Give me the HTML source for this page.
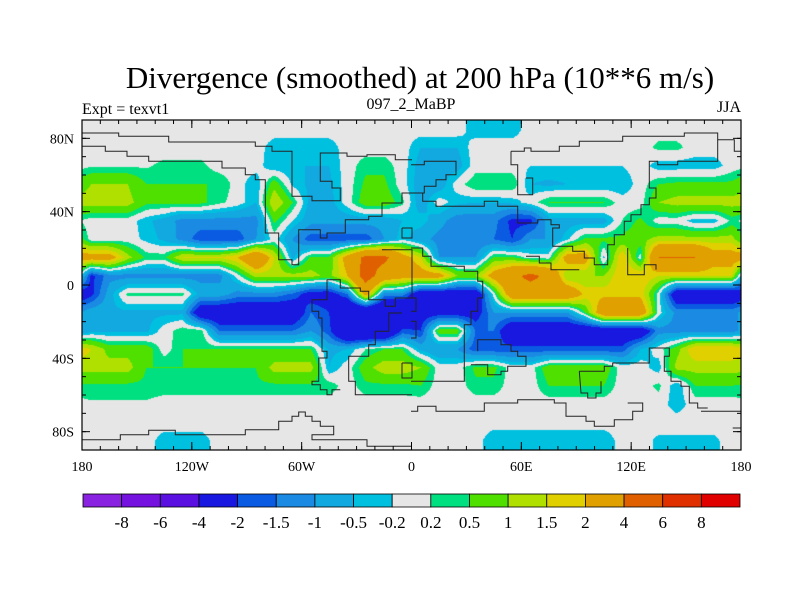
<!DOCTYPE html>
<html><head><meta charset="utf-8"><style>
body{margin:0;background:#fff;}
#wrap{position:relative;width:800px;height:600px;overflow:hidden;font-family:"Liberation Serif",serif;color:#000;}
.t{position:absolute;white-space:nowrap;}
</style></head><body>
<div id="wrap">
<div class="t" style="left:0;width:840px;text-align:center;top:60px;font-size:31px;">Divergence (smoothed) at 200 hPa (10**6 m/s)</div>
<div class="t" style="left:82px;top:101px;font-size:16px;">Expt = texvt1</div>
<div class="t" style="left:361px;width:100px;text-align:center;top:96px;font-size:16px;">097_2_MaBP</div>
<div class="t" style="left:700px;width:41px;text-align:right;top:99px;font-size:16px;">JJA</div>
<canvas id="map" width="659" height="330" style="position:absolute;left:82px;top:120px;"></canvas>
<svg id="ov" width="800" height="600" style="position:absolute;left:0;top:0;"></svg>
</div>
<script>
const levels=[-8,-6,-4,-2,-1.5,-1,-0.5,-0.2,0.2,0.5,1,1.5,2,4,6,8];
const levelLabels=["-8","-6","-4","-2","-1.5","-1","-0.5","-0.2","0.2","0.5","1","1.5","2","4","6","8"];
const colors=["#8a22e2","#7612e0","#5a10e0","#1818e0","#0a5ae2","#1a8ae2","#12a8e0","#00c0e0","#e6e6e6","#00e080","#50e000","#b0e000","#e0d000","#e0a000","#e06000","#e03000","#e00000"];
const latTicks=["80N","40N","0","40S","80S"];
const latTickVals=[80,40,0,-40,-80];
const lonTicks=["180","120W","60W","0","60E","120E","180"];
const lonTickVals=[-180,-120,-60,0,60,120,180];
// field: rows lat 85N..85S (10 deg), cols lon -175..175
const r0=[0,0,0,0,0,0,0,0,0,0,0,0,0,0,0,0,0,0, 0,0,0,-0.4,-0.4,-0.4,0,0,0,0,0,0,0,0,0,0,0,0];
const r1=[0,0,0,0,0,0,0,0,0,0,-0.4,-0.4,-0.4,-0.4,0,0,0,0, -0.5,-0.5,-0.5,0,0,0,0,0,0,0,0,0,0,0.3,0.3,0,0,0];
const r2=[0.15,0.15,0.15,0.15,0.3,0.3,0.3,0,0,0,-0.5,-0.5,-0.5,-0.5,0,0.4,0.4,0, -0.7,-0.7,-0.7,0,0,0,-0.2,-0.2,-0.2,-0.2,-0.2,-0.2,0,-0.4,-0.4,-0.4,-0.4,0];
const r3=[1.0,1.0,1.0,0.5,0.5,0.5,0.5,0.5,0,-0.5,0.8,-0.3,-0.6,-0.6,0,0.6,0.6,0, -0.8,-0.8,0,0.5,0.5,0.5,-0.5,-0.6,-0.5,-0.5,-0.5,-0.5,0,0.5,0.6,0.6,0.6,0.6];
const r4=[1.2,1.2,1.2,0.6,0.6,0.6,0.6,0.3,0,-0.5,1.5,0.5,-0.7,-0.7,0,0.8,0.8,0.3, -0.8,0,-0.4,-0.5,-0.5,-0.4,0,0.5,0.5,0.5,0.5,0,0,1.0,1.2,1.2,1.2,1.2];
const r5=[0,0,0,-0.4,-0.7,-1.2,-1.2,-1.2,-1.2,-1.2,0.6,-0.2,-0.8,-0.8,-0.8,-0.8,-0.8,-0.5, -0.3,-0.8,-1.3,-1.3,-1.3,-2.2,-2.2,-0.7,-0.7,-0.7,-0.7,0.2,0.6,0,0,-0.4,-0.4,0.3];
const r6=[0,0,0,-0.3,-0.6,-1.2,-1.8,-1.8,-1.8,-1,0,-1,-1.8,-1.8,-1.8,-1.8,-1,-0.3, -0.8,-1.2,-1.2,-1.5,-1.5,-2,-1,-1,-0.3,0.6,0.6,0.6,0.8,1.2,1.2,1.2,1.2,1.2];
const r7=[2.5,2.5,1.2,0.4,0.4,1.5,1.5,1.5,2,3.5,1.5,-0.6,0.6,0.6,2.5,4.5,4.5,2.5, 1.5,-1,-1,-1,0.6,0.6,0,0,2.5,2.5,-0.3,2,0,4,4,4,2.5,2.5];
const r8=[-2.2,-1.2,-1.2,-1.2,-1.2,-1.2,-1.2,-1.2,0,1.2,1.2,1.2,1.2,0.8,2,5,3,2.5, 2.5,2.5,1,1,2.5,3.5,4.5,3.5,1,1,1,2,2,1.5,1.5,1.5,1.5,1.5];
const r9=[-2.2,-0.7,0.3,0.3,0.3,0.3,-0.7,-0.7,-1.2,-1.2,-1.2,-1.6,-2.5,-2.5,-1.5,2.5,-1.2,-1.2, -3,-3,-3,-3,0,3,3,3,3,1.8,1.8,1.8,1.8,0,-3,-3,-3,-3];
const r10=[-0.6,-0.6,-0.6,-0.6,-0.6,-0.6,-3,-3,-3,-3,-3,-3,-1.5,-2,-4,-4,-4,-4, -2.5,-2.5,-2.5,-2.5,-1,-1,-1,-1,-1,0.5,3,3,3,0,-1.2,-1.2,-1.2,-1.2];
const r11=[-0.6,-0.6,-0.6,-0.6,0,0.4,0.4,-1.5,-1.5,-1.5,-1.5,-1.5,-1,-1.8,-4,-4,-4,-1.8, -2,0.8,0.8,-1.5,-1.5,-3,-3,-3,-3,-3,-3,-3,-3,-1.2,-1.2,-1.2,-1.2,-1.2];
const r12=[1.5,0.8,0.8,0.8,0,0.5,0.5,0.5,0.5,0.5,0.5,0.5,0.5,-0.6,-0.5,0.2,0.5,0.5, -0.6,-1,-1,-1.8,-1.8,-1.8,-1.8,-1.8,-1.8,-1.8,-1.8,-1.8,-0.5,0,0.8,2,2,2];
const r13=[1.2,1.2,1.2,0.5,0.5,0.5,0.5,0.5,0.5,0.5,1.2,1.2,1.2,-0.5,0,0.8,1.3,1.3, 1,0,0,0.6,0.6,0,0,0.8,0.8,0.8,0.8,0,0,-0.4,1.2,1.2,1.2,1.2];
const r14=[0.4,0.4,0.4,0.4,0.4,0.4,0.4,0.4,0.4,0.4,0.4,0.4,0.4,0.4,0,0.4,0.4,0.4, 0.5,0,0,0.4,0.4,0,0,0.5,0.5,0.5,0.5,0,0,0.3,-0.5,0.5,0.5,0.5];
const r15=[0.15,0.15,0.15,0.15,0,0,0,0,0,0,0,0,0,0,0,0,0,0, 0,0,0,0,0,0,0,0,0,0,0,0,0,0,-0.4,0,0,0];
const r16=[0,0,0,0,0,0,0,0,0,0,0,0,0,0,0,0,0,0, 0,0,0,0,0,0,0,0,0,0,0,0,0,0,0,0,0,0];
const r17=[0,0,0,0,-0.4,-0.4,-0.4,0,0,0,0,0,0,0,0,0,0,0, 0,0,0,0,-0.5,-0.5,-0.5,-0.5,-0.5,-0.5,-0.5,0,0,-0.3,-0.3,-0.3,-0.3,0];
const field=[r0,r1,r2,r3,r4,r5,r6,r7,r8,r9,r10,r11,r12,r13,r14,r15,r16,r17];

const PX=82,PY=120,PW=659,PH=330;
function xOf(lon){return PX+(lon+180)*PW/360;}
function yOf(lat){return PY+(90-lat)*PH/180;}
const rgb=colors.map(c=>[parseInt(c.substr(1,2),16),parseInt(c.substr(3,2),16),parseInt(c.substr(5,2),16)]);
function sample(lon,lat){
  const nr=field.length,nc=field[0].length;
  let fr=(85-lat)/10; fr=Math.max(0,Math.min(nr-1,fr));
  let fc=(lon+175)/10; fc=((fc%nc)+nc)%nc;
  const a0=Math.floor(fr),a1=Math.min(nr-1,a0+1),tr=fr-a0;
  const c0=Math.floor(fc),c1=(c0+1)%nc,tc=fc-c0;
  const a=field[a0][c0]*(1-tc)+field[a0][c1]*tc;
  const b=field[a1][c0]*(1-tc)+field[a1][c1]*tc;
  return a*(1-tr)+b*tr;
}
const cv=document.getElementById('map');const ctx=cv.getContext('2d');
const img=ctx.createImageData(PW,PH);
for(let py=0;py<PH;py++){const lat=90-(py+0.5)*180/PH;
 for(let px=0;px<PW;px++){const lon=-180+(px+0.5)*360/PW;
  const v=sample(lon,lat);let i=0;while(i<levels.length&&v>=levels[i])i++;
  const c=rgb[i];const k=(py*PW+px)*4;img.data[k]=c[0];img.data[k+1]=c[1];img.data[k+2]=c[2];img.data[k+3]=255;}}
ctx.putImageData(img,0,0);

const NS='http://www.w3.org/2000/svg';const svg=document.getElementById('ov');
function mk(t,a){const e=document.createElementNS(NS,t);for(const k in a)e.setAttribute(k,a[k]);svg.appendChild(e);return e;}
// paleo coastlines traced (coords in 3x crop units of left/right halves)
const coastL=[
"0,45 110,45 110,55 260,55 260,72 520,72 520,85 570,85 570,100 630,100 630,235 690,235 690,248 775,248 775,210 750,210 750,190 715,190 715,105 795,105 795,115 855,115 855,110 940,110 940,125 990,125",
"0,85 70,85 70,100 135,100 135,115 200,115 200,130 420,130 420,150 490,150 490,170 520,170 520,185 550,185 550,345 590,345 590,425 630,425 630,440 650,440 650,335 715,335 715,360 735,360 735,345 790,345 790,305 860,305 860,295 900,295 900,255 960,255 960,225 990,225",
"960,330 990,330 990,360 960,360 960,330",
"900,395 990,395 990,540 940,540 940,565 910,565 910,545 860,545 860,520 835,520 835,510 775,510 775,485 735,485 735,545 690,545 690,580 710,580 710,600 720,600 720,700 735,700 735,720 710,720 710,790 690,790 690,800 715,800 715,815 735,815 735,830 750,830 750,815 775,815",
"960,585 920,585 920,640 880,640 880,680 860,680 860,715 800,715 800,790 820,790 820,830 990,830",
"0,965 115,965 115,950 200,950 200,937 280,937 280,950 490,950 490,935 590,935 590,910 630,910 630,895 650,895 650,882 670,882 670,895 690,895 690,910 715,910 715,925 755,925 755,950 690,950 690,965 855,965 855,985 990,985",
"960,735 990,735 990,780 960,780 960,735"];
const coastR=[
"0,140 40,140 40,130 135,130 135,170 105,170 105,185 75,185 75,205 40,205 40,225 0,225",
"300,100 340,100 340,90 360,90 360,100 445,100 445,85 505,85 505,70 635,70 635,55 820,55 820,45 920,45 920,65 970,65 970,100 990,100",
"300,100 300,140 320,140 320,230 365,230 365,180 345,180",
"920,65 920,130 800,130 800,140 740,140 740,130 715,130 715,210 735,210 735,240 715,240 715,260 690,260 690,290 660,290 660,310 640,310 640,350 610,350 610,380 590,380 590,440 550,440 550,420 520,420 520,400 485,400 485,385 425,385 425,330 445,330 445,320 420,320 420,305 380,305 380,315 320,315 320,265 260,265 260,250 220,250 220,265 75,265 75,250 35,250 35,225",
"650,390 650,470 700,470 700,440 735,440 735,455",
"0,390 35,390 35,415 60,415 60,445 160,445 160,460 200,460 200,490 215,490 215,540 200,540 200,580 180,580 180,620 160,620 160,790 0,790",
"0,540 15,540 15,580 0,580",
"0,610 15,610 15,660 0,660",
"345,415 385,415 385,435 420,435 420,455 505,455",
"180,740 230,740 230,770 270,770 270,760 290,760 290,745 345,745 345,715 320,715 320,700 300,700 300,680 270,680 270,665 200,665 200,700",
"505,760 580,760 580,745 605,745 605,735 715,735 715,690 775,690 775,715 760,715 760,760 780,760 780,790 810,790 810,805 835,805 835,855 860,855 860,870 890,870",
"505,760 510,825 530,825 530,840 555,840 555,825 570,825 570,790",
"0,880 20,880 20,865 75,865 75,880 220,880 220,855 320,855 320,845 430,845 430,855 465,855 465,895 525,895 525,910 550,910 550,925 610,925 610,905 665,905 665,880 695,880 695,855 650,855",
"870,880 990,880","965,930 990,930"];
function drawCoast(list,ox,name){list.forEach(s=>{
 const pts=s.split(' ').map(p=>p.split(',').map(Number));
 const d='M'+pts.map(p=>(ox+p[0]/3).toFixed(1)+','+(118+p[1]/3).toFixed(1)).join(' L');
 const e=mk('path',{d:d,fill:'none',stroke:'#222','stroke-width':1});
 
 });}
drawCoast(coastL,82,'coastline-west');
drawCoast(coastR,411,'coastline-east');
const fr=mk('rect',{x:PX,y:PY,width:PW,height:PH,fill:'none',stroke:'#000','stroke-width':1.2});


for(let lon=-170;lon<180;lon+=10){const x=xOf(lon);
 mk('line',{x1:x,x2:x,y1:PY,y2:PY+4,stroke:'#000'});mk('line',{x1:x,x2:x,y1:PY+PH,y2:PY+PH-4,stroke:'#000'});}
for(let lat=-80;lat<90;lat+=10){const y=yOf(lat);
 mk('line',{x1:PX,x2:PX+4,y1:y,y2:y,stroke:'#000'});mk('line',{x1:PX+PW,x2:PX+PW-4,y1:y,y2:y,stroke:'#000'});}
latTickVals.forEach((v,i)=>{const y=yOf(v);
 mk('line',{x1:PX,x2:PX+8,y1:y,y2:y,stroke:'#000'});mk('line',{x1:PX+PW,x2:PX+PW-8,y1:y,y2:y,stroke:'#000'});
 const t=mk('text',{x:74,y:y+5,'text-anchor':'end','font-size':14,'font-family':'Liberation Serif, serif'});t.textContent=latTicks[i];
 
 });
lonTickVals.forEach((v,i)=>{const x=xOf(v);
 mk('line',{x1:x,x2:x,y1:PY+PH,y2:PY+PH-8,stroke:'#000'});mk('line',{x1:x,x2:x,y1:PY,y2:PY+8,stroke:'#000'});
 const t=mk('text',{x:x,y:471,'text-anchor':'middle','font-size':14,'font-family':'Liberation Serif, serif'});t.textContent=lonTicks[i];
 
 });
const CBX=83,CBW=657,CBY=494,CBH=13,bw=CBW/colors.length;
colors.forEach((c,i)=>{const r=mk('rect',{x:CBX+i*bw,y:CBY,width:bw,height:CBH,fill:c,stroke:'#000','stroke-width':0.8});
 
 });
levelLabels.forEach((l,i)=>{const t=mk('text',{x:CBX+(i+1)*bw,y:528,'text-anchor':'middle','font-size':17,'font-family':'Liberation Serif, serif'});t.textContent=l;
 
 });
</script>
</body></html>
